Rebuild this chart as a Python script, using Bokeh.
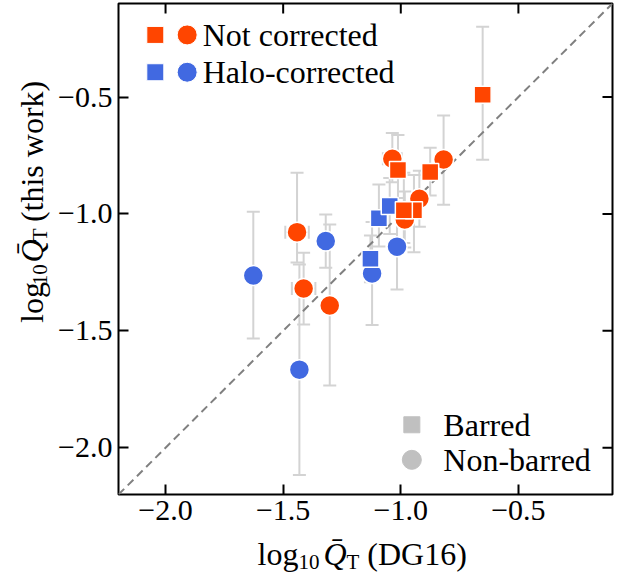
import numpy as np
from bokeh.plotting import figure
from bokeh.layouts import row, column
from bokeh.models import (ColumnDataSource, Whisker, Slope, FixedTicker,
                          Label, CustomJSTickFormatter, Range1d, TeeHead)
from bokeh.embed import file_html
from bokeh.resources import INLINE

# ---------------- data ----------------
# Not corrected, barred (squares)
nc_bar_x = [-0.652, -0.875, -1.012, -0.944, -0.987]
nc_bar_y = [-0.490, -0.821, -0.812, -0.984, -0.984]
nc_bar_ylo = [0.278, 0.10, 0.12, 0.18, 0.14]
nc_bar_yhi = [0.291, 0.104, 0.15, 0.15, 0.16]
nc_bar_xerr = [0.0, 0.03, 0.03, 0.03, 0.03]

# Not corrected, non-barred (circles)
nc_nb_x = [-0.818, -1.036, -0.921, -0.983, -1.441, -1.413, -1.302]
nc_nb_y = [-0.767, -0.764, -0.935, -1.024, -1.078, -1.319, -1.392]
nc_nb_ylo = [0.194, 0.10, 0.12, 0.12, 0.13, 0.154, 0.342]
nc_nb_yhi = [0.188, 0.11, 0.12, 0.12, 0.254, 0.153, 0.347]
nc_nb_xerr = [0.02, 0.04, 0.03, 0.03, 0.05, 0.05, 0.0]

# Halo-corrected, barred (squares)
hc_bar_x = [-1.093, -1.047, -1.129]
hc_bar_y = [-1.019, -0.966, -1.192]
hc_bar_ylo = [0.12, 0.12, 0.10]
hc_bar_yhi = [0.145, 0.12, 0.10]
hc_bar_xerr = [0.03, 0.03, 0.02]

# Halo-corrected, non-barred (circles)
hc_nb_x = [-1.627, -1.319, -1.431, -1.122, -1.016]
hc_nb_y = [-1.263, -1.116, -1.666, -1.255, -1.140]
hc_nb_ylo = [0.270, 0.114, 0.451, 0.22, 0.183]
hc_nb_yhi = [0.272, 0.114, 0.45, 0.22, 0.18]
hc_nb_xerr = [0.0, 0.0, 0.0, 0.02, 0.03]

TICKS = [-2.0, -1.5, -1.0, -0.5]
XRANGE = (-2.2, -0.1)
YRANGE = (-2.2, -0.1)

ORANGE = "#FF4500"
BLUE = "#4169E1"
ERR = "#D3D3D3"
GRAY = "#C0C0C0"
FONT = "Liberation Serif"

# layout geometry (pixels)
PAGE_W = 623
LEFT_W = 54          # strip holding the y-axis label
MAIN_W = PAGE_W - LEFT_W
MAIN_H = 535
BOTTOM_H = 40        # full-width strip holding the x-axis label
TOTAL_H = MAIN_H + BOTTOM_H

p = figure(width=MAIN_W, height=MAIN_H, x_range=Range1d(*XRANGE), y_range=Range1d(*YRANGE),
           output_backend="svg", toolbar_location=None,
           min_border_left=118 - LEFT_W, min_border_right=11, min_border_top=3,
           min_border_bottom=MAIN_H - 494)
p.xgrid.visible = False
p.ygrid.visible = False
p.outline_line_color = "black"
p.outline_line_width = 2
p.background_fill_color = "white"
p.border_fill_color = "white"

fmt = CustomJSTickFormatter(code="return (tick < 0 ? '\\u2212' : '') + Math.abs(tick).toFixed(1);")

for ax in (p.xaxis[0], p.yaxis[0]):
    ax.ticker = FixedTicker(ticks=TICKS)
    ax.formatter = fmt
    ax.axis_line_color = None
    ax.major_tick_in = 10
    ax.major_tick_out = 0
    ax.major_tick_line_width = 2
    ax.major_tick_line_color = "black"
    ax.minor_tick_line_color = None
    ax.major_label_text_font = FONT
    ax.major_label_text_color = "black"
    ax.major_label_text_font_size = "30px"
    ax.major_label_standoff = 6

# ---------------- error bars ----------------
def add_errors(xs, ys, ylo, yhi, xerr):
    xs = np.asarray(xs); ys = np.asarray(ys)
    ylo = np.asarray(ylo); yhi = np.asarray(yhi); xerr = np.asarray(xerr)
    src = ColumnDataSource(dict(x=xs, lo=ys - ylo, hi=ys + yhi))
    p.add_layout(Whisker(source=src, base="x", lower="lo", upper="hi", dimension="height",
                         line_color=ERR, line_width=2, level="underlay",
                         upper_head=TeeHead(size=13, line_color=ERR, line_width=2),
                         lower_head=TeeHead(size=13, line_color=ERR, line_width=2)))
    m = xerr > 0
    if m.any():
        srcx = ColumnDataSource(dict(y=ys[m], lo=xs[m] - xerr[m], hi=xs[m] + xerr[m]))
        p.add_layout(Whisker(source=srcx, base="y", lower="lo", upper="hi", dimension="width",
                             line_color=ERR, line_width=2, level="underlay",
                             upper_head=TeeHead(size=13, line_color=ERR, line_width=2),
                             lower_head=TeeHead(size=13, line_color=ERR, line_width=2)))

add_errors(hc_nb_x, hc_nb_y, hc_nb_ylo, hc_nb_yhi, hc_nb_xerr)
add_errors(hc_bar_x, hc_bar_y, hc_bar_ylo, hc_bar_yhi, hc_bar_xerr)
add_errors(nc_nb_x, nc_nb_y, nc_nb_ylo, nc_nb_yhi, nc_nb_xerr)
add_errors(nc_bar_x, nc_bar_y, nc_bar_ylo, nc_bar_yhi, nc_bar_xerr)

# one-to-one line
p.add_layout(Slope(gradient=1, y_intercept=0, line_color="gray", line_width=2,
                   line_dash="8 5", level="underlay"))

# ---------------- markers ----------------
SQ = 17
CI = 20
p.scatter(hc_nb_x, hc_nb_y, marker="circle", size=CI, fill_color=BLUE, line_color="white", line_width=1.5)
p.scatter(hc_bar_x, hc_bar_y, marker="square", size=SQ, fill_color=BLUE, line_color="white", line_width=1.5)
p.scatter(nc_nb_x, nc_nb_y, marker="circle", size=CI, fill_color=ORANGE, line_color="white", line_width=1.5)
p.scatter(nc_bar_x, nc_bar_y, marker="square", size=SQ, fill_color=ORANGE, line_color="white", line_width=1.5)

# inward ticks on the top and right edges (half of each dash is clipped by the frame)
p.scatter(TICKS, [YRANGE[1]] * len(TICKS), marker="dash", angle=np.pi / 2, size=20,
          line_color="black", line_width=2)
p.scatter([XRANGE[1]] * len(TICKS), TICKS, marker="dash", size=20,
          line_color="black", line_width=2)

# ---------------- legends (drawn manually) ----------------
def fx(f):
    return XRANGE[0] + f * (XRANGE[1] - XRANGE[0])

def fy(f):
    return YRANGE[0] + f * (YRANGE[1] - YRANGE[0])

leg_rows = [("Not corrected", ORANGE), ("Halo-corrected", BLUE)]
row_y = [fy(0.936), fy(0.860)]
for (txt, col), yy in zip(leg_rows, row_y):
    p.scatter([fx(0.0745)], [yy], marker="square", size=SQ, fill_color=col, line_color="white", line_width=1)
    p.scatter([fx(0.139)], [yy], marker="circle", size=CI, fill_color=col, line_color="white", line_width=1)
    p.add_layout(Label(x=fx(0.1705), y=yy, text=txt, text_font=FONT, text_font_size="32px",
                       text_baseline="middle", text_align="left", text_color="black"))

shape_rows = [("Barred", "square", SQ - 1), ("Non-barred", "circle", CI - 1)]
shape_y = [fy(0.1420), fy(0.0706)]
for (txt, mk, sz), yy in zip(shape_rows, shape_y):
    p.scatter([fx(0.5938)], [yy], marker=mk, size=sz, fill_color=GRAY, line_color=GRAY)
    p.add_layout(Label(x=fx(0.6576), y=yy, text=txt, text_font=FONT, text_font_size="32px",
                       text_baseline="middle", text_align="left", text_color="black"))

# ---------------- axis labels in helper strips (real text pieces) ----------------
W = {"l": .278, "o": .5, "g": .5, "1": .5, "0": .5, "Q": .722, "T": .611, " ": .25,
     "(": .333, ")": .333, "D": .722, "G": .722, "6": .5, "t": .278, "h": .5, "i": .278,
     "s": .389, "w": .722, "r": .333, "k": .5, "\u0304": 0.0}
MID = 0.34   # distance (in em) from the alphabetic baseline up to the text middle

def text_w(s, size):
    return sum(W.get(c, .5) for c in s) * size

def label_pieces(tail):
    # (text, font px, style, baseline shift down px, extra gap after)
    return [("log", 32, "normal", 0, 0), ("10", 21, "normal", 5, 4),
            ("Q\u0304", 32, "italic", 0, 0), ("T", 21, "normal", 5, 8),
            (tail, 32, "normal", 0, 0)]

def strip(width, height, xr, yr):
    f = figure(width=width, height=height, x_range=Range1d(*xr), y_range=Range1d(*yr),
               output_backend="svg", toolbar_location=None,
               x_axis_location=None, y_axis_location=None, min_border=0)
    f.grid.visible = False
    f.outline_line_color = None
    f.background_fill_color = "white"
    f.border_fill_color = "white"
    return f

# bottom strip spans the whole page width: data coords == page pixels
bot = strip(PAGE_W, BOTTOM_H, (0, PAGE_W), (TOTAL_H, MAIN_H))
cx = 257
for txt, size, style, dy, gap in label_pieces("(DG16)"):
    bot.add_layout(Label(x=cx, y=564 + dy - MID * size, text=txt, text_font=FONT,
                         text_font_size=f"{size}px", text_font_style=style,
                         text_baseline="middle", text_align="left", text_color="black"))
    cx += text_w(txt, size) + gap

# left strip: rotated y label (page pixel coordinates)
left = strip(LEFT_W, MAIN_H, (0, LEFT_W), (MAIN_H, 0))
cy = 348
for txt, size, style, dy, gap in label_pieces("(this work)"):
    left.add_layout(Label(x=42 + dy - MID * size, y=cy, angle=np.pi / 2, text=txt, text_font=FONT,
                          text_font_size=f"{size}px", text_font_style=style,
                          text_baseline="middle", text_align="left", text_color="black"))
    cy -= text_w(txt, size) + gap

layout = column(row(left, p, spacing=0), bot, spacing=0)
open("out.html", "w").write(file_html(layout, INLINE))
